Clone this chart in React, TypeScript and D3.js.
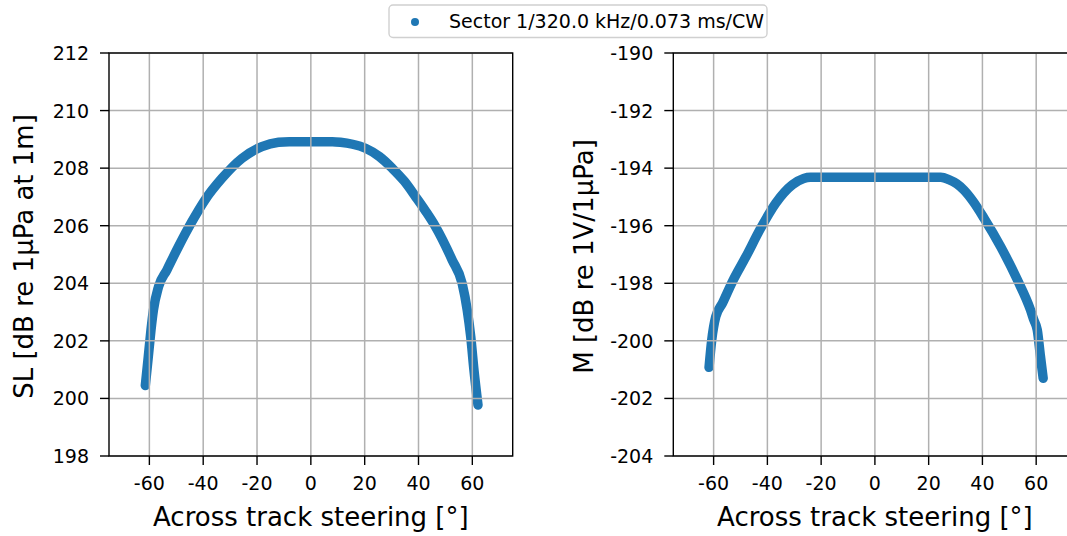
import React from "react";
import * as d3 from "d3";

// Sector 1 – 320.0 kHz, 0.073 ms, CW
// Source level vs. across-track steering angle
const steeringSL = [
  -61.5, -60.4, -59.4, -58.5, -56.6, -53.5, -49.2, -44.2, -39.3, -33.0, -25.6,
  -18.2, -12.0, -8.0, 0, 8.0, 11.0, 15.5, 20.3, 25.5, 30.2, 34.7, 38.9, 42.7,
  46.3, 52.5, 56.2, 58.1, 59.4, 60.6, 62.1,
];
const levelSL = [
  200.45, 201.45, 202.38, 203.07, 203.88, 204.46, 205.27, 206.14, 206.9,
  207.65, 208.34, 208.75, 208.9, 208.92, 208.92, 208.92, 208.9, 208.83, 208.69,
  208.4, 208.0, 207.55, 207.01, 206.5, 205.97, 204.81, 204.0, 203.07, 202.15,
  200.99, 199.77,
];

// Receive sensitivity vs. across-track steering angle
const steeringM = [
  -61.7, -60.7, -59.2, -56.7, -53.0, -48.0, -42.5, -36.9, -30.7, -26.5, -24.0,
  0, 24.5, 27.5, 30.5, 33.1, 36.5, 40.6, 46.8, 53.0, 57.9, 59.1, 60.4, 61.6,
  62.6,
];
const levelM = [
  -200.92, -199.97, -199.16, -198.69, -197.94, -197.08, -196.09, -195.22,
  -194.58, -194.36, -194.32, -194.32, -194.32, -194.4, -194.55, -194.76,
  -195.15, -195.74, -196.73, -197.88, -198.93, -199.27, -199.62, -200.55,
  -201.3,
];

const xTicks = [-60, -40, -20, 0, 20, 40, 60];
const slTicks = [198, 200, 202, 204, 206, 208, 210, 212];
const mTicks = [-204, -202, -200, -198, -196, -194, -192, -190];

const legendLabel = "Sector 1/320.0 kHz/0.073 ms/CW";
const xLabel = "Across track steering [°]";
const slLabel = "SL [dB re 1µPa at 1m]";
const mLabel = "M [dB re 1V/1µPa]";

const W = 1067;
const H = 536;
const FONT = "DejaVu Sans, sans-serif";
const BLUE = "#1f77b4";
const GRID = "#b0b0b0";
const TICK_FS = 19;
const LABEL_FS = 26;

type PanelProps = {
  left: number;
  right: number;
  xs: number[];
  ys: number[];
  yDomain: [number, number];
  yTicks: number[];
  yLabel: string;
  labelX: number;
};

const TOP = 53;
const BOTTOM = 456;

function Panel({ left, right, xs, ys, yDomain, yTicks, yLabel, labelX }: PanelProps) {
  const x = d3.scaleLinear().domain([-75, 75]).range([left, right]);
  const y = d3.scaleLinear().domain(yDomain).range([BOTTOM, TOP]);
  const pts: [number, number][] = xs.map((d, i) => [d, ys[i]]);
  const line = d3
    .line<[number, number]>()
    .x((d) => x(d[0]))
    .y((d) => y(d[1]))
    .curve(d3.curveMonotoneX);
  return (
    <g>
      {/* measured points, dense enough to read as a band */}
      <path
        d={line(pts) ?? ""}
        fill="none"
        stroke={BLUE}
        strokeWidth={9.5}
        strokeLinecap="round"
        strokeLinejoin="round"
      />
      {/* grid */}
      {xTicks.map((t) => (
        <line key={"gx" + t} x1={x(t)} x2={x(t)} y1={TOP} y2={BOTTOM} stroke={GRID} strokeWidth={1.5} />
      ))}
      {yTicks.map((t) => (
        <line key={"gy" + t} x1={left} x2={right} y1={y(t)} y2={y(t)} stroke={GRID} strokeWidth={1.5} />
      ))}
      {/* spines */}
      <rect x={left} y={TOP} width={right - left} height={BOTTOM - TOP} fill="none" stroke="#000" strokeWidth={1.4} />
      {/* x ticks */}
      {xTicks.map((t) => (
        <g key={"xt" + t}>
          <line x1={x(t)} x2={x(t)} y1={BOTTOM} y2={BOTTOM + 9} stroke="#000" strokeWidth={1.4} />
          <text x={x(t)} y={490} textAnchor="middle" fontSize={TICK_FS} fontFamily={FONT} fill="#000">
            {String(t)}
          </text>
        </g>
      ))}
      {/* y ticks */}
      {yTicks.map((t) => (
        <g key={"yt" + t}>
          <line x1={left - 9} x2={left} y1={y(t)} y2={y(t)} stroke="#000" strokeWidth={1.4} />
          <text x={left - 20} y={y(t) + 7} textAnchor="end" fontSize={TICK_FS} fontFamily={FONT} fill="#000">
            {String(t)}
          </text>
        </g>
      ))}
      <text
        x={(left + right) / 2}
        y={526}
        textAnchor="middle"
        fontSize={LABEL_FS}
        fontFamily={FONT}
        fill="#000"
      >
        {xLabel}
      </text>
      <text
        transform={`translate(${labelX},${(TOP + BOTTOM) / 2 + 2}) rotate(-90)`}
        textAnchor="middle"
        fontSize={LABEL_FS}
        fontFamily={FONT}
        fill="#000"
      >
        {yLabel}
      </text>
    </g>
  );
}

export default function App() {
  return (
    <div style={{ position: "absolute", left: 0, top: 0 }}>
      <svg width={W} height={H} viewBox={`0 0 ${W} ${H}`} style={{ display: "block", background: "#fff" }}>
        <rect width={W} height={H} fill="#fff" />
        <Panel
          left={109}
          right={512.7}
          xs={steeringSL}
          ys={levelSL}
          yDomain={[198, 212]}
          yTicks={slTicks}
          yLabel={slLabel}
          labelX={33}
        />
        <Panel
          left={673.3}
          right={1076.5}
          xs={steeringM}
          ys={levelM}
          yDomain={[-204, -190]}
          yTicks={mTicks}
          yLabel={mLabel}
          labelX={593}
        />
        {/* legend */}
        <g>
          <rect x={389} y={5} width={378} height={32.5} rx={4} fill="#fff" fillOpacity={0.8} stroke="#d0d0d0" strokeWidth={1.4} />
          <circle cx={415} cy={22} r={4} fill={BLUE} />
          <text x={449} y={28} fontSize={TICK_FS} fontFamily={FONT} fill="#000">
            {legendLabel}
          </text>
        </g>
      </svg>
    </div>
  );
}
